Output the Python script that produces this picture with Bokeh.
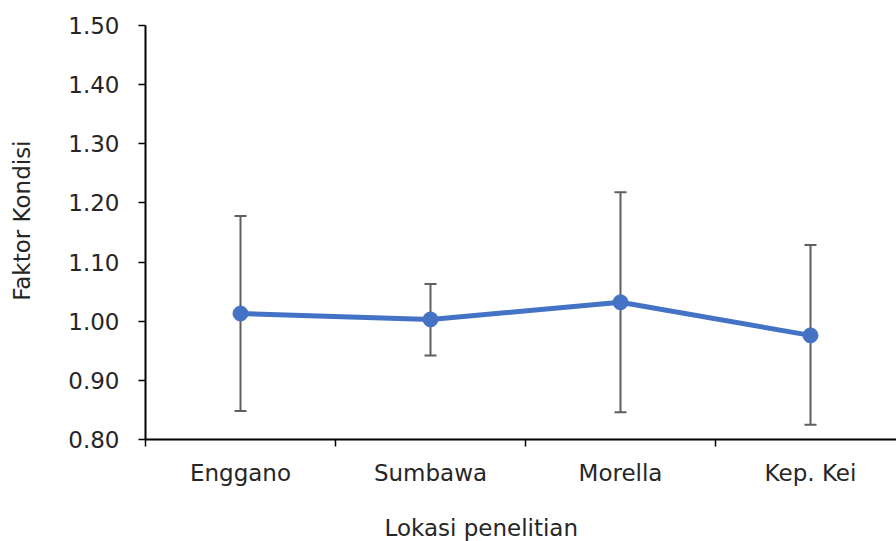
from bokeh.plotting import figure
from bokeh.models import Range1d, FixedTicker, NumeralTickFormatter, Title
from bokeh.embed import file_html
from bokeh.resources import INLINE

categories = ["Enggano", "Sumbawa", "Morella", "Kep. Kei"]
means = [1.013, 1.003, 1.032, 0.976]
upper = [1.178, 1.063, 1.218, 1.129]
lower = [0.848, 0.942, 0.846, 0.825]
y_ticks = [0.8, 0.9, 1.0, 1.1, 1.2, 1.3, 1.4, 1.5]

FONT = "DejaVu Sans"
FS = "23px"
TXT = "#262626"
xs = [i + 0.5 for i in range(len(categories))]

p = figure(width=896, height=541, output_backend="svg", toolbar_location=None,
           x_range=Range1d(0, 751 / 190), y_range=Range1d(0.8, 1.5),
           min_border_left=145, min_border_right=0, min_border_top=25, min_border_bottom=102)
p.outline_line_color = None
p.grid.grid_line_color = None
p.background_fill_color = "white"
p.border_fill_color = "white"

# error bars
p.segment(x0=xs, y0=lower, x1=xs, y1=upper, line_color="#5f5f5f", line_width=2)
p.scatter(x=xs, y=upper, marker="dash", size=12, line_color="#5f5f5f", line_width=2)
p.scatter(x=xs, y=lower, marker="dash", size=12, line_color="#5f5f5f", line_width=2)

# line with markers
p.line(x=xs, y=means, line_color="#4472C4", line_width=5)
p.scatter(x=xs, y=means, size=15, fill_color="#4472C4", line_color="#4472C4")

# x axis
xa = p.xaxis[0]
xa.ticker = FixedTicker(ticks=xs, minor_ticks=list(range(len(categories) + 1)))
xa.major_label_overrides = {x: c for x, c in zip(xs, categories)}
xa.major_tick_out = 0
xa.major_tick_in = 0
xa.minor_tick_out = 7
xa.minor_tick_in = 0
xa.minor_tick_line_color = "black"
xa.minor_tick_line_width = 1.5
xa.axis_line_color = "black"
xa.axis_line_width = 2
xa.major_label_text_font = FONT
xa.major_label_text_font_size = FS
xa.major_label_text_color = TXT
xa.major_label_standoff = 13

# y axis
ya = p.yaxis[0]
ya.ticker = FixedTicker(ticks=y_ticks, minor_ticks=[])
ya.formatter = NumeralTickFormatter(format="0.00")
ya.major_tick_out = 7
ya.major_tick_in = 0
ya.major_tick_line_width = 1.5
ya.axis_line_color = "black"
ya.axis_line_width = 2
ya.major_label_text_font = FONT
ya.major_label_text_font_size = FS
ya.major_label_text_color = TXT
ya.major_label_standoff = 19

# spacers keep the axis titles clear of the tick labels
p.add_layout(Title(text=" ", standoff=21, text_font_size="1px"), "below")
p.add_layout(Title(text="Lokasi penelitian", align="left", offset=239, standoff=0,
                   text_font=FONT, text_font_size=FS, text_font_style="normal",
                   text_color=TXT), "below")
p.add_layout(Title(text=" ", standoff=28, text_font_size="1px"), "left")
p.add_layout(Title(text="Faktor Kondisi", align="right", offset=115, standoff=0,
                   text_font=FONT, text_font_size=FS, text_font_style="normal",
                   text_color=TXT), "left")

open("out.html", "w").write(file_html(p, INLINE))
